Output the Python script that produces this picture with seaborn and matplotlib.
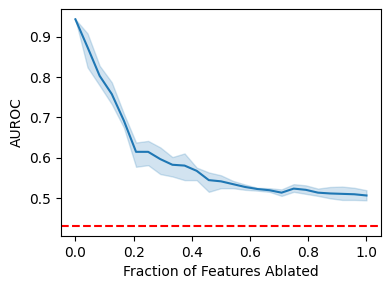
import matplotlib
matplotlib.use("Agg")
import matplotlib.pyplot as plt
import numpy as np
import pandas as pd
import seaborn as sns

# fraction of features ablated (25 steps)
fractions = [i / 24 for i in range(25)]
auroc_mean = [0.943, 0.874, 0.803, 0.758, 0.692, 0.615, 0.615, 0.597, 0.583,
              0.581, 0.568, 0.545, 0.542, 0.535, 0.528, 0.523, 0.520, 0.514,
              0.524, 0.521, 0.514, 0.512, 0.511, 0.510, 0.507]
auroc_upper = [0.943, 0.908, 0.828, 0.787, 0.709, 0.638, 0.642, 0.626, 0.602,
               0.611, 0.576, 0.564, 0.557, 0.543, 0.534, 0.526, 0.525, 0.522,
               0.535, 0.532, 0.524, 0.528, 0.529, 0.526, 0.520]
auroc_lower = [0.943, 0.824, 0.779, 0.733, 0.675, 0.578, 0.582, 0.560, 0.554,
               0.545, 0.545, 0.516, 0.525, 0.525, 0.521, 0.519, 0.516, 0.506,
               0.516, 0.511, 0.506, 0.500, 0.496, 0.496, 0.495]
baseline = 0.432

df = pd.DataFrame({"fraction": fractions, "auroc": auroc_mean})

fig, ax = plt.subplots(figsize=(3.9, 2.89), dpi=100)
sns.lineplot(data=df, x="fraction", y="auroc", color="C0", ax=ax)
ax.fill_between(fractions, auroc_lower, auroc_upper, color="C0", alpha=0.2)
ax.axhline(baseline, color="red", linestyle="--")

ax.set_xlabel("Fraction of Features Ablated")
ax.set_ylabel("AUROC")

fig.subplots_adjust(left=0.156, right=0.977, top=0.969, bottom=0.183)
fig.savefig("out.png", dpi=100)
